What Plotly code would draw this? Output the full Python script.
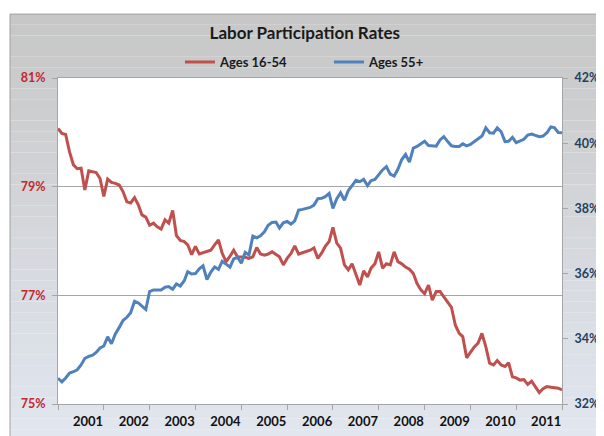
import plotly.graph_objects as go
import pandas as pd

# ---------------- data ----------------
months = pd.date_range("2000-05-01", periods=133, freq="MS")

ages_16_54 = [
    80.07, 79.98, 79.96, 79.64, 79.40, 79.33, 79.34, 78.94, 79.29, 79.27,
    79.26, 79.15, 78.82, 79.14, 79.08, 79.06, 79.03, 78.91, 78.72, 78.70,
    78.80, 78.66, 78.48, 78.44, 78.29, 78.33, 78.26, 78.22, 78.39, 78.33,
    78.56, 78.10, 78.01, 77.99, 77.93, 77.75, 77.90, 77.76, 77.78, 77.80,
    77.83, 77.93, 78.02, 77.77, 77.62, 77.72, 77.83, 77.71, 77.71, 77.70,
    77.68, 77.71, 77.88, 77.76, 77.74, 77.76, 77.80, 77.76, 77.71, 77.56,
    77.68, 77.77, 77.91, 77.76, 77.78, 77.80, 77.83, 77.87, 77.68, 77.78,
    77.90, 77.99, 78.25, 77.96, 77.87, 77.56, 77.47, 77.58, 77.37, 77.19,
    77.45, 77.34, 77.50, 77.58, 77.80, 77.50, 77.58, 77.56, 77.80, 77.62,
    77.58, 77.52, 77.48, 77.40, 77.22, 77.10, 77.03, 77.19, 76.91, 77.07,
    77.07, 76.98, 76.88, 76.78, 76.45, 76.30, 76.24, 75.85, 75.95, 76.05,
    76.12, 76.30, 76.05, 75.75, 75.72, 75.80, 75.72, 75.69, 75.76, 75.50,
    75.48, 75.44, 75.45, 75.36, 75.42, 75.32, 75.21, 75.28, 75.32, 75.31,
    75.30, 75.29, 75.26,
]

ages_55_plus = [
    32.79, 32.68, 32.80, 32.95, 32.99, 33.05, 33.20, 33.40, 33.46, 33.50,
    33.58, 33.72, 33.78, 34.06, 33.85, 34.15, 34.35, 34.56, 34.66, 34.80,
    35.15, 35.10, 35.00, 34.90, 35.45, 35.50, 35.50, 35.50, 35.58, 35.60,
    35.52, 35.68, 35.62, 35.78, 36.06, 35.99, 36.00, 36.15, 36.24, 35.82,
    36.05, 36.20, 36.13, 36.38, 36.29, 36.20, 36.45, 36.50, 36.32, 36.65,
    36.57, 37.15, 37.10, 37.16, 37.28, 37.48, 37.57, 37.58, 37.40, 37.56,
    37.60, 37.52, 37.62, 37.95, 37.97, 38.00, 38.03, 38.10, 38.30, 38.31,
    38.36, 38.46, 38.00, 38.30, 38.48, 38.25, 38.55, 38.70, 38.86, 38.82,
    38.89, 38.70, 38.85, 38.89, 39.05, 39.18, 39.28, 39.05, 38.99, 39.20,
    39.50, 39.66, 39.42, 39.85, 39.90, 39.98, 40.06, 39.93, 39.91, 39.91,
    40.10, 40.20, 40.05, 39.92, 39.90, 39.90, 39.98, 39.92, 39.96, 40.05,
    40.12, 40.22, 40.47, 40.32, 40.31, 40.47, 40.35, 40.05, 40.06, 40.18,
    40.02, 40.08, 40.12, 40.25, 40.28, 40.24, 40.20, 40.22, 40.32, 40.50,
    40.48, 40.33, 40.32,
]

year_labels = ["2001", "2002", "2003", "2004", "2005", "2006",
               "2007", "2008", "2009", "2010", "2011"]
left_ticks = [75, 77, 79, 81]
right_ticks = [32, 34, 36, 38, 40, 42]

# ---------------- figure ----------------
RED = "#C0504D"
BLUE = "#4F81BD"
AXIS_GRAY = "#A6A6A6"
FONT = "Lato"

fig = go.Figure()
fig.add_trace(go.Scatter(x=months, y=ages_16_54, name="Ages 16-54", mode="lines",
                         line=dict(color=RED, width=3), yaxis="y"))
fig.add_trace(go.Scatter(x=months, y=ages_55_plus, name="Ages 55+", mode="lines",
                         line=dict(color=BLUE, width=3), yaxis="y2"))

# chart-area background: gradient bands, then white plot area on top of them
shapes = []
n_bands = 40
top_c = (199, 199, 199)
bot_c = (225, 230, 239)
y_top, y_bot = 1.196, -0.11
for k in range(n_bands):
    t = k / (n_bands - 1)
    c = tuple(int(round(top_c[j] + (bot_c[j] - top_c[j]) * t)) for j in range(3))
    ya = y_top + (y_bot - y_top) * k / n_bands
    yb = y_top + (y_bot - y_top) * (k + 1) / n_bands
    shapes.append(dict(type="rect", xref="paper", yref="paper", layer="below",
                       x0=-0.0952, x1=1.10, y0=yb, y1=ya,
                       fillcolor="rgb(%d,%d,%d)" % c, line=dict(width=0)))
shapes.append(dict(type="rect", xref="paper", yref="paper", layer="below",
                   x0=0, x1=1, y0=0, y1=1, fillcolor="white", line=dict(width=0)))
shapes.append(dict(type="rect", xref="paper", yref="paper", layer="below",
                   x0=-0.0952, x1=1.10, y0=-0.11, y1=y_top, fillcolor="rgba(0,0,0,0)",
                   line=dict(color="#A0A0A0", width=1)))

fig.update_layout(
    width=596, height=428,
    margin=dict(l=50, r=42, t=70, b=32),
    paper_bgcolor="white",
    plot_bgcolor="rgba(0,0,0,0)",
    shapes=shapes,
    title=dict(text="Labor Participation Rates", x=0.498, xref="container", xanchor="center",
               y=0.942, yref="container", yanchor="middle",
               font=dict(family=FONT, size=17, color="#1A1A1A", weight="bold")),
    showlegend=True,
    legend=dict(orientation="h", x=0.242, xanchor="left", y=1.049, yanchor="middle",
                bgcolor="rgba(0,0,0,0)", entrywidth=104, entrywidthmode="pixels",
                itemwidth=30, font=dict(family=FONT, size=13, color="#1A1A1A", weight="bold")),
    xaxis=dict(
        type="date", range=[months[0], months[-1]], automargin=False,
        tickmode="array", tickvals=list(months[::12]), ticktext=year_labels + [""],
        ticklabelshift=30, ticks="outside", ticklen=5, tickcolor=AXIS_GRAY,
        showline=True, linecolor=AXIS_GRAY, mirror=True, showgrid=False, zeroline=False,
        tickfont=dict(family=FONT, size=13, color="#111111", weight="bold"),
    ),
    yaxis=dict(
        range=[75, 81], tickmode="array", tickvals=left_ticks, automargin=False,
        ticktext=["%d%%" % v for v in left_ticks],
        ticks="outside", ticklen=5, tickcolor=AXIS_GRAY, ticklabelstandoff=4,
        showline=True, linecolor=AXIS_GRAY, showgrid=True, gridcolor=AXIS_GRAY, gridwidth=1,
        zeroline=False,
        tickfont=dict(family=FONT, size=12.5, color="#C0282C", weight="bold"),
    ),
    yaxis2=dict(
        range=[32, 42], tickmode="array", tickvals=right_ticks, automargin=False,
        ticktext=["%d%%" % v for v in right_ticks],
        overlaying="y", side="right",
        ticks="outside", ticklen=5, tickcolor=AXIS_GRAY, ticklabelstandoff=4,
        showline=True, linecolor=AXIS_GRAY, showgrid=False, zeroline=False,
        tickfont=dict(family=FONT, size=12.5, color="#243F60", weight="bold"),
    ),
)

fig.write_html("out.html")
